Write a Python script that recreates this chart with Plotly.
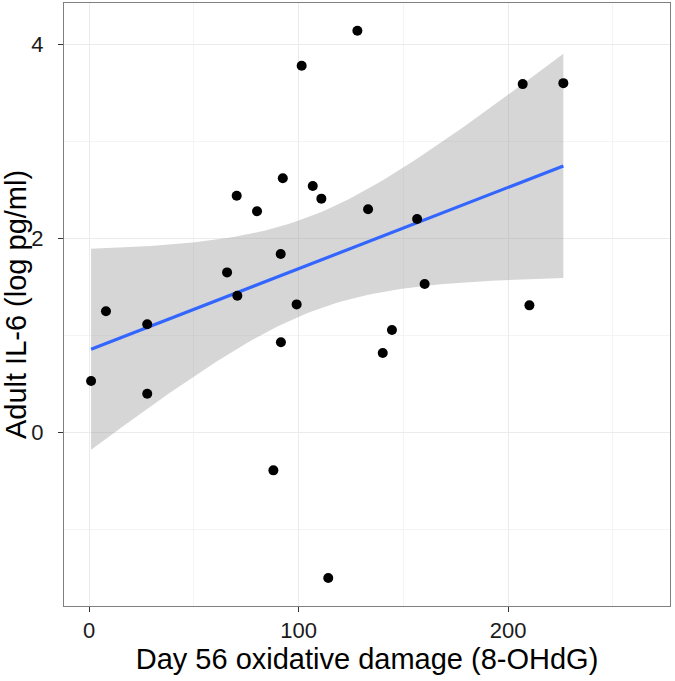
import numpy as np
import plotly.graph_objects as go

# Data
oxidative_damage = [1.0, 8.1, 27.8, 27.8, 65.9, 70.5, 70.8, 80.2, 88.0, 91.5, 91.6, 92.5, 99.1,
                    101.5, 106.8, 110.9, 114.2, 128.1, 133.2, 140.2, 144.6, 156.6, 160.2,
                    207.0, 210.2, 226.4]
adult_il6 = [0.53, 1.25, 1.115, 0.40, 1.65, 2.44, 1.41, 2.28, -0.39, 1.84, 0.93, 2.62, 1.32,
             3.78, 2.54, 2.41, -1.50, 4.14, 2.30, 0.82, 1.056, 2.20, 1.53,
             3.59, 1.31, 3.60]

x_ticks = [0, 100, 200]
y_ticks = [0, 2, 4]
x_title = "Day 56 oxidative damage (8-OHdG)"
y_title = "Adult IL-6 (log pg/ml)"

# Linear model smooth (as geom_smooth(method="lm")) with 95% confidence band
x = np.array(oxidative_damage)
y = np.array(adult_il6)
n = len(x)
slope, intercept = np.polyfit(x, y, 1)
resid = y - (intercept + slope * x)
s = np.sqrt(np.sum(resid ** 2) / (n - 2))
t_crit = 2.0639  # t(0.975, df=24)
xs = np.linspace(x.min(), x.max(), 80)
fit = intercept + slope * xs
se = s * np.sqrt(1.0 / n + (xs - x.mean()) ** 2 / np.sum((x - x.mean()) ** 2))
upper = fit + t_crit * se
lower = fit - t_crit * se

fig = go.Figure()
fig.add_trace(go.Scatter(
    x=np.concatenate([xs, xs[::-1]]), y=np.concatenate([upper, lower[::-1]]),
    fill="toself", fillcolor="rgba(153,153,153,0.4)", line=dict(width=0),
    mode="lines", hoverinfo="skip", showlegend=False))
fig.add_trace(go.Scatter(x=xs, y=fit, mode="lines",
                         line=dict(color="#3366FF", width=3.2), showlegend=False))
fig.add_trace(go.Scatter(x=oxidative_damage, y=adult_il6, mode="markers",
                         marker=dict(color="black", size=10), showlegend=False))

axis_common = dict(
    automargin=False,
    showline=True, mirror=True, linecolor="#7F7F7F", linewidth=1,
    showgrid=True, gridcolor="#EBEBEB", gridwidth=1, zeroline=False,
    ticks="outside", ticklen=5, tickwidth=1, tickcolor="#333333",
    tickfont=dict(family="Liberation Sans, Arial, sans-serif", size=22, color="#1a1a1a"),
    title_font=dict(family="Liberation Sans, Arial, sans-serif", size=29, color="black"),
)

fig.update_xaxes(range=[-11.93, 277.3], tickvals=x_ticks, ticktext=[str(v) for v in x_ticks],
                 title_text=x_title, title_standoff=4,
                 minor=dict(dtick=50, tick0=0, showgrid=True, gridcolor="#F4F4F4", ticks=""),
                 **axis_common)
fig.update_yaxes(range=[-1.788, 4.426], tickvals=y_ticks, ticktext=[str(v) for v in y_ticks],
                 title_text=y_title, title_standoff=6, ticklabelstandoff=10,
                 minor=dict(dtick=1, tick0=0, showgrid=True, gridcolor="#F4F4F4", ticks=""),
                 **axis_common)

fig.update_layout(
    width=675, height=681,
    margin=dict(l=64, r=5, t=3, b=75),
    paper_bgcolor="white", plot_bgcolor="white",
    showlegend=False,
)

fig.write_html("out.html", config={"displayModeBar": False},
               post_script="document.body.style.margin='0';document.body.style.overflow='hidden';")
